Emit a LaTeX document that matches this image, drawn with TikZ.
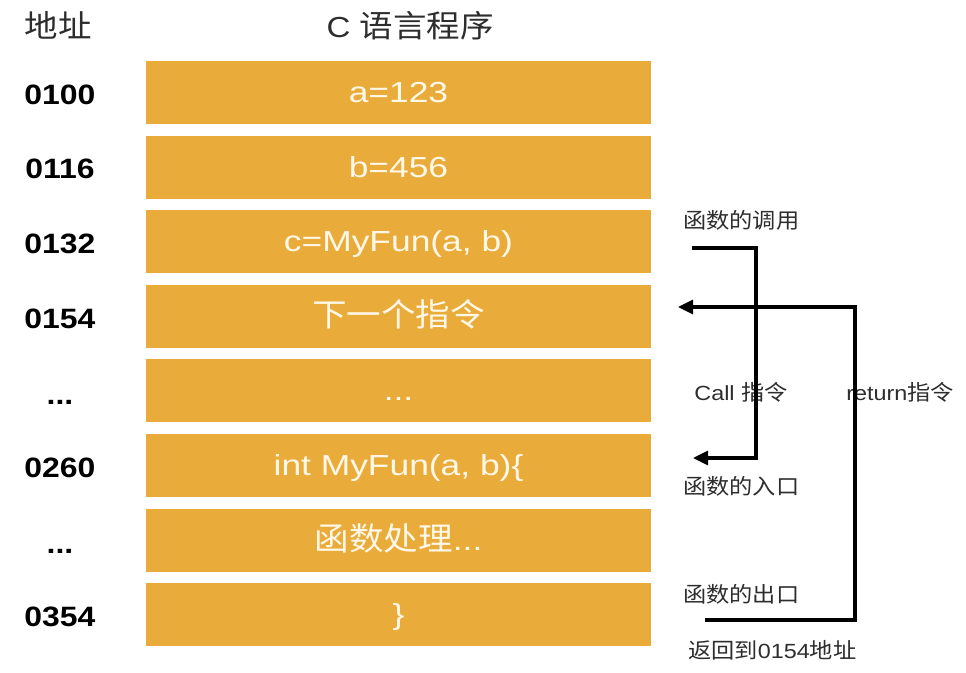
\documentclass[tikz,border=0pt]{standalone}
\usepackage{fontspec}
\setmainfont{Liberation Sans}[FakeStretch=1.14]
\newfontfamily\boxlat{Liberation Sans}[FakeStretch=1.22]
\newfontfamily\cjk{Noto Sans CJK SC}[FakeStretch=1.08]
\usetikzlibrary{arrows.meta}
\definecolor{boxfill}{RGB}{233,172,59}
\definecolor{boxtext}{RGB}{255,248,232}
\definecolor{labtext}{RGB}{45,45,45}
\newcommand{\bcjk}[1]{{\fontsize{32}{34}\selectfont\cjk #1}}
\newcommand{\ncjk}[1]{{\fontsize{21.5}{24}\selectfont\cjk #1}}
\tikzset{
  membox/.style={fill=boxfill, draw=none, minimum width=505pt, minimum height=63pt, inner sep=0pt,
    text=boxtext, text height=20.5pt, text depth=0pt, font=\fontsize{29}{31}\selectfont\boxlat},
  addr/.style={font=\fontsize{28}{30}\selectfont\bfseries, text=black, inner sep=0pt, text height=20pt, text depth=0pt},
  head/.style={font=\fontsize{29}{31}\selectfont, text=labtext, inner sep=0pt, text height=21pt, text depth=0pt},
  note/.style={font=\fontsize{20.5}{24}\selectfont, text=labtext, inner sep=0pt, text height=15pt, text depth=0pt},
  flow/.style={line width=3.2pt, draw=black, -{Triangle[length=15pt,width=14pt]}}
}
\begin{document}
\begin{tikzpicture}[x=1pt,y=-1pt]
\useasboundingbox (0,0) rectangle (966,672);
% headers
\node[head] (hAddr) at (58,27) {{\fontsize{31}{33}\selectfont\cjk 地址}};
\node[head] (hProg) at (410,27) {C {\fontsize{31}{33}\selectfont\cjk 语言程序}};
% boxes
\node[membox] (b1) at (398.5,92.5) {a=123};
\node[membox] (b2) at (398.5,167) {b=456};
\node[membox] (b3) at (398.5,241.5) {c=MyFun(a, b)};
\node[membox] (b4) at (398.5,316) {\bcjk{下一个指令}};
\node[membox] (b5) at (398.5,390.5) {...};
\node[membox] (b6) at (398.5,465.5) {int MyFun(a, b)\{};
\node[membox] (b7) at (398.5,540) {\bcjk{函数处理}...};
\node[membox] (b8) at (398.5,614) {\}};
% addresses
\node[addr] (a1) at (60,94) {0100};
\node[addr] (a2) at (60,168) {0116};
\node[addr] (a3) at (60,243) {0132};
\node[addr] (a4) at (60,318) {0154};
\node[addr] (a5) at (60,394) {...};
\node[addr] (a6) at (60,467) {0260};
\node[addr] (a7) at (60,543) {...};
\node[addr] (a8) at (60,616) {0354};
% notes
\node[note, anchor=west] (nCall) at (683,221) {\ncjk{函数的调用}};
\node[note] (nCallIns) at (741,393) {Call \ncjk{指令}};
\node[note] (nRet) at (900,393) {return\ncjk{指令}};
\node[note, anchor=west] (nEntry) at (683,487) {\ncjk{函数的入口}};
\node[note, anchor=west] (nExit) at (683,595) {\ncjk{函数的出口}};
\node[note, anchor=west] (nBack) at (688,651) {\ncjk{返回到}0154\ncjk{地址}};
% connectors
\coordinate (cStart) at (692,248);
\coordinate (cEnd) at (693,458);
\coordinate (rStart) at (705,620);
\coordinate (rEnd) at (678,307);
\draw[flow] (cStart) -- (756,248) -- (756,458) -- (cEnd);
\draw[flow] (rStart) -- (855,620) -- (855,307) -- (rEnd);
\end{tikzpicture}
\end{document}
